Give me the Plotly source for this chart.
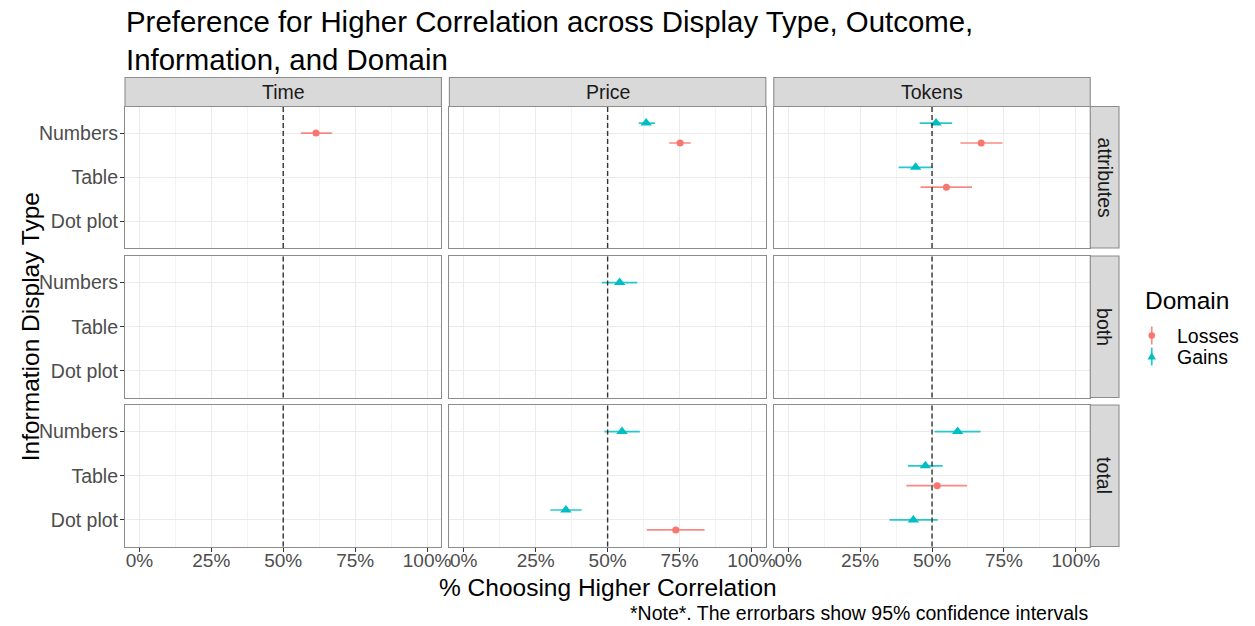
import plotly.graph_objects as go

# ---- data: % choosing the higher-correlation option, with 95% CI ----
outcome = ["Time", "Price", "Price", "Tokens", "Tokens", "Tokens", "Tokens",
           "Price",
           "Price", "Price", "Price", "Tokens", "Tokens", "Tokens", "Tokens"]
information = ["attributes", "attributes", "attributes", "attributes", "attributes", "attributes", "attributes",
               "both",
               "total", "total", "total", "total", "total", "total", "total"]
display = ["Numbers", "Numbers", "Numbers", "Numbers", "Numbers", "Table", "Table",
           "Numbers",
           "Numbers", "Dot plot", "Dot plot", "Numbers", "Table", "Table", "Dot plot"]
domain = ["Losses", "Gains", "Losses", "Gains", "Losses", "Gains", "Losses",
          "Gains",
          "Gains", "Gains", "Losses", "Gains", "Gains", "Losses", "Gains"]
estimate = [61.4, 63.4, 75.2, 51.4, 67.1, 44.3, 55.0,
            54.2,
            55.0, 35.5, 73.7, 58.9, 47.7, 51.8, 43.5]
ci_low = [56.2, 60.8, 71.4, 45.7, 59.9, 38.4, 46.0,
          48.0,
          48.9, 30.1, 63.6, 50.9, 41.6, 41.1, 35.2]
ci_high = [66.9, 66.5, 78.9, 57.0, 74.5, 50.2, 63.9,
           60.3,
           61.2, 41.0, 83.7, 66.9, 53.7, 62.2, 52.0]

outcomes = ["Time", "Price", "Tokens"]
infos = ["attributes", "both", "total"]
display_levels = ["Dot plot", "Table", "Numbers"]          # bottom -> top
domains = ["Losses", "Gains"]
x_ticks = [0, 25, 50, 75, 100]
x_tick_labels = ["0%", "25%", "50%", "75%", "100%"]

# ---- styling ----
W, H = 1255, 626
FONT = "Liberation Sans, Arial, sans-serif"
COLORS = {"Losses": "#F8766D", "Gains": "#00BFC4"}
BAR_COLORS = {"Losses": "rgba(248,118,109,0.85)", "Gains": "rgba(0,191,196,0.85)"}
SYMBOLS = {"Losses": "circle", "Gains": "triangle-up"}
SIZES = {"Losses": 7, "Gains": 10}
BORDER = "#8C8C8C"
STRIP_FILL = "#D9D9D9"

# panel geometry in pixels
col_px = [(126, 445), (453, 772), (780, 1099)]
row_px = [(106.5, 248), (256, 397.5), (405, 546.5)]
strip_top = (77.5, 106.5)
strip_right = (1099, 1128)
DODGE = 0.225


def px_x(v):
    return v / W


def px_y(v):
    return 1 - v / H


# dodge offsets: groups sharing a cell are spread apart
cell_counts = {}
for o, i, d in zip(outcome, information, display):
    cell_counts[(o, i, d)] = cell_counts.get((o, i, d), 0) + 1

fig = go.Figure()
layout_axes = {}
shapes = []
annotations = []

for r, info in enumerate(infos):
    for c, out in enumerate(outcomes):
        k = r * 3 + c + 1
        xa = "x" if k == 1 else f"x{k}"
        ya = "y" if k == 1 else f"y{k}"
        xkey = "xaxis" if k == 1 else f"xaxis{k}"
        ykey = "yaxis" if k == 1 else f"yaxis{k}"

        for dom in domains:
            xs, ys, lo, hi = [], [], [], []
            for o, i, d, g, e, l, h in zip(outcome, information, display, domain,
                                            estimate, ci_low, ci_high):
                if o == out and i == info and g == dom:
                    base = display_levels.index(d) + 1
                    off = 0.0
                    if cell_counts[(o, i, d)] > 1:
                        off = DODGE if g == "Gains" else -DODGE
                    xs.append(e)
                    ys.append(base + off)
                    lo.append(e - l)
                    hi.append(h - e)
            if not xs:
                continue
            fig.add_trace(go.Scatter(
                x=xs, y=ys, xaxis=xa, yaxis=ya, mode="markers",
                name=dom, showlegend=False,
                marker=dict(symbol=SYMBOLS[dom], size=SIZES[dom], color=COLORS[dom],
                            line=dict(width=0)),
                error_x=dict(type="data", symmetric=False, array=hi, arrayminus=lo,
                             width=0, thickness=1.7, color=BAR_COLORS[dom]),
                cliponaxis=False,
            ))

        bottom = r == 2
        left = c == 0
        layout_axes[xkey] = dict(
            domain=[px_x(col_px[c][0]), px_x(col_px[c][1])],
            anchor=ya, range=[-5, 105],
            tickvals=x_ticks, ticktext=x_tick_labels,
            showticklabels=bottom, ticks="outside" if bottom else "",
            ticklen=4, tickwidth=1, tickcolor="#333333", ticklabelstandoff=-7,
            tickfont=dict(family=FONT, size=19, color="#4D4D4D"),
            showgrid=True, gridcolor="#EBEBEB", gridwidth=1.1,
            minor=dict(tickvals=[12.5, 37.5, 62.5, 87.5], showgrid=True,
                       gridcolor="#F3F3F3", gridwidth=0.7, ticks=""),
            zeroline=False, showline=True, mirror=True,
            linecolor=BORDER, linewidth=1.1, fixedrange=True,
        )
        layout_axes[ykey] = dict(
            domain=[px_y(row_px[r][1]), px_y(row_px[r][0])],
            anchor=xa, range=[0.4, 3.6],
            tickvals=[1, 2, 3], ticktext=display_levels,
            showticklabels=left, ticks="outside" if left else "",
            ticklen=4, tickwidth=1, tickcolor="#333333", ticklabelstandoff=-2,
            tickfont=dict(family=FONT, size=19.5, color="#4D4D4D"),
            showgrid=True, gridcolor="#EBEBEB", gridwidth=1.1,
            zeroline=False, showline=True, mirror=True,
            linecolor=BORDER, linewidth=1.1, fixedrange=True,
        )

        # reference line at 50%
        shapes.append(dict(type="line", xref=xa, yref=f"{ya} domain",
                           x0=50, x1=50, y0=0, y1=1, layer="above",
                           line=dict(color="#333333", width=1.4, dash="5px,3px")))

# facet strips: columns on top
for c, out in enumerate(outcomes):
    shapes.append(dict(type="rect", xref="paper", yref="paper",
                       x0=px_x(col_px[c][0]), x1=px_x(col_px[c][1]),
                       y0=px_y(strip_top[1]), y1=px_y(strip_top[0]),
                       fillcolor=STRIP_FILL, line=dict(color=BORDER, width=1.1)))
    annotations.append(dict(text=out, xref="paper", yref="paper",
                            x=px_x((col_px[c][0] + col_px[c][1]) / 2),
                            y=px_y((strip_top[0] + strip_top[1]) / 2),
                            showarrow=False, xanchor="center", yanchor="middle",
                            font=dict(family=FONT, size=19.5, color="#1A1A1A")))
# facet strips: rows on the right
for r, info in enumerate(infos):
    shapes.append(dict(type="rect", xref="paper", yref="paper",
                       x0=px_x(strip_right[0]), x1=px_x(strip_right[1]),
                       y0=px_y(row_px[r][1]), y1=px_y(row_px[r][0]),
                       fillcolor=STRIP_FILL, line=dict(color=BORDER, width=1.1)))
    annotations.append(dict(text=info, xref="paper", yref="paper",
                            x=px_x((strip_right[0] + strip_right[1]) / 2),
                            y=px_y((row_px[r][0] + row_px[r][1]) / 2),
                            showarrow=False, textangle=90,
                            xanchor="center", yanchor="middle",
                            font=dict(family=FONT, size=19.5, color="#1A1A1A")))

# two-line title
annotations.append(dict(
    text="Preference for Higher Correlation across Display Type, Outcome,<br>Information, and Domain",
    xref="paper", yref="paper", x=px_x(125), y=px_y(2.5), xanchor="left", yanchor="top",
    align="left", showarrow=False, font=dict(family=FONT, size=29.4, color="#000000")))

# axis titles and note
annotations.append(dict(
    text="% Choosing Higher Correlation", xref="paper", yref="paper",
    x=px_x((col_px[0][0] + col_px[2][1]) / 2), y=px_y(587),
    xanchor="center", yanchor="middle", showarrow=False,
    font=dict(family=FONT, size=24.5, color="#000000")))
annotations.append(dict(
    text="Information Display Type", xref="paper", yref="paper",
    x=px_x(31), y=px_y((row_px[0][0] + row_px[2][1]) / 2),
    xanchor="center", yanchor="middle", textangle=-90, showarrow=False,
    font=dict(family=FONT, size=24.5, color="#000000")))
annotations.append(dict(
    text="*Note*. The errorbars show 95% confidence intervals", xref="paper", yref="paper",
    x=px_x(1099), y=px_y(613), xanchor="right", yanchor="middle", showarrow=False,
    font=dict(family=FONT, size=19.5, color="#000000")))

# legend for Domain, drawn with pointrange glyphs
annotations.append(dict(
    text="Domain", xref="paper", yref="paper", x=px_x(1152), y=px_y(300),
    xanchor="left", yanchor="middle", showarrow=False,
    font=dict(family=FONT, size=24.5, color="#000000")))
legend_rows = {"Losses": 335.5, "Gains": 356.5}
gx = 1161
for dom in domains:
    gy = legend_rows[dom]
    shapes.append(dict(type="line", xref="paper", yref="paper",
                       x0=px_x(gx), x1=px_x(gx), y0=px_y(gy + 9), y1=px_y(gy - 9),
                       line=dict(color=BAR_COLORS[dom], width=1.7)))
    if dom == "Losses":
        shapes.append(dict(type="circle", xref="paper", yref="paper",
                           x0=px_x(gx - 3.3), x1=px_x(gx + 3.3),
                           y0=px_y(gy + 3.3), y1=px_y(gy - 3.3),
                           fillcolor=COLORS[dom], line=dict(width=0)))
    else:
        shapes.append(dict(type="path", xref="paper", yref="paper",
                           path=(f"M {px_x(gx - 4.2)} {px_y(gy + 3)} "
                                 f"L {px_x(gx + 4.2)} {px_y(gy + 3)} "
                                 f"L {px_x(gx)} {px_y(gy - 4.3)} Z"),
                           fillcolor=COLORS[dom], line=dict(width=0)))
    annotations.append(dict(
        text=dom, xref="paper", yref="paper", x=px_x(1184), y=px_y(gy),
        xanchor="left", yanchor="middle", showarrow=False,
        font=dict(family=FONT, size=19.5, color="#000000")))

fig.update_layout(
    width=W, height=H,
    margin=dict(l=0, r=0, t=0, b=0),
    paper_bgcolor="white", plot_bgcolor="white",
    showlegend=False,
    font=dict(family=FONT),
    shapes=shapes, annotations=annotations,
    **layout_axes,
)

fig.write_html("out.html")
